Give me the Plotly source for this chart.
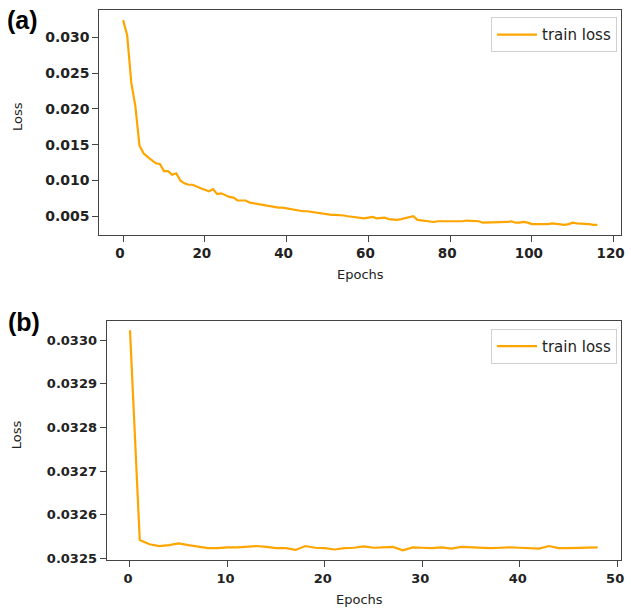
import plotly.graph_objects as go

W, H = 631, 614

epochs_a = list(range(117))
loss_a = [
    0.0324, 0.0303, 0.0237, 0.0204, 0.0149, 0.0138, 0.0133, 0.0128, 0.0124, 0.0123,
    0.0113, 0.0113, 0.0108, 0.0110, 0.0100, 0.0096, 0.0094, 0.0094, 0.0091, 0.0089,
    0.0087, 0.0085, 0.0088, 0.0081, 0.0082, 0.0079, 0.0077, 0.0076, 0.0072, 0.0072,
    0.0072, 0.0069, 0.0068, 0.0067, 0.0066, 0.0064, 0.0064, 0.0063, 0.0062, 0.0062,
    0.0061, 0.0060, 0.0058, 0.0057, 0.0057, 0.0057, 0.0056, 0.0056, 0.0055, 0.0054,
    0.0053, 0.0052, 0.0052, 0.0052, 0.0051, 0.0050, 0.0049, 0.0049, 0.0048, 0.0047,
    0.0048, 0.0049, 0.0047, 0.0047, 0.0048, 0.0046, 0.0045, 0.0045, 0.0046, 0.0047,
    0.0049, 0.0050, 0.0045, 0.0044, 0.0043, 0.0042, 0.0042, 0.0043, 0.0043, 0.0042,
    0.0042, 0.0042, 0.0042, 0.0043, 0.0044, 0.0044, 0.0044, 0.0043, 0.0041, 0.0041,
    0.0042, 0.0042, 0.0041, 0.0041, 0.0042, 0.0043, 0.0041, 0.0041, 0.0042, 0.0041,
    0.0039, 0.0039, 0.0039, 0.0038, 0.0039, 0.0040, 0.0039, 0.0039, 0.0038, 0.0039,
    0.0041, 0.0040, 0.0040, 0.0040, 0.0039, 0.0038, 0.0038,
]

epochs_b = list(range(49))
loss_b = [
    0.033023, 0.032542, 0.032532, 0.032528, 0.032530, 0.032534, 0.032530, 0.032526, 0.032523, 0.032523,
    0.032525, 0.032525, 0.032526, 0.032528, 0.032526, 0.032523, 0.032523, 0.032519, 0.032528, 0.032524,
    0.032523, 0.032520, 0.032523, 0.032524, 0.032527, 0.032524, 0.032525, 0.032526, 0.032518, 0.032525,
    0.032524, 0.032523, 0.032525, 0.032522, 0.032526, 0.032525, 0.032523, 0.032523, 0.032524, 0.032525,
    0.032524, 0.032523, 0.032522, 0.032528, 0.032523, 0.032523, 0.032524, 0.032524, 0.032525,
]

ticks_a_x = [0, 20, 40, 60, 80, 100, 120]
ticks_a_y = [0.005, 0.010, 0.015, 0.020, 0.025, 0.030]
ticks_b_x = [0, 10, 20, 30, 40, 50]
ticks_b_y = [0.0325, 0.0326, 0.0327, 0.0328, 0.0329, 0.0330]

ORANGE = "#FFA500"
TXT = "#222222"
AX = "#444444"

fig = go.Figure()
fig.add_trace(go.Scatter(x=epochs_a, y=loss_a, mode="lines", name="train loss",
                         line=dict(color=ORANGE, width=2.2), xaxis="x", yaxis="y", legend="legend"))
fig.add_trace(go.Scatter(x=epochs_b, y=loss_b, mode="lines", name="train loss",
                         line=dict(color=ORANGE, width=2.2), xaxis="x2", yaxis="y2", legend="legend2"))

def px_x(p):
    return p / W

def px_y(p):
    return 1 - p / H

def axis_common(size):
    return dict(showline=True, linecolor=AX, linewidth=1, mirror=True, ticks="outside",
                ticklen=6, tickcolor=AX, showgrid=False, zeroline=False,
                tickfont=dict(family="DejaVu Sans", size=size, color=TXT, weight="bold"))

leg_font = dict(family="DejaVu Sans", size=15, color=TXT)

fig.update_layout(
    width=W, height=H, margin=dict(l=0, r=0, t=0, b=0),
    paper_bgcolor="white", plot_bgcolor="white",
    xaxis=dict(domain=[px_x(100), px_x(625)], range=[-5.8, 121.8], anchor="y",
               tickvals=ticks_a_x, ticklabelshift=-3, **axis_common(13.5)),
    yaxis=dict(domain=[px_y(237), px_y(10)], range=[0.00237, 0.03383], anchor="x",
               tickvals=ticks_a_y, tickformat=".3f", **axis_common(14)),
    xaxis2=dict(domain=[px_x(107.3), px_x(625)], range=[-2.4, 50.4], anchor="y2",
                tickvals=ticks_b_x, ticklabelshift=-2, **axis_common(13)),
    yaxis2=dict(domain=[px_y(565), px_y(323.3)], range=[0.032495, 0.033045], anchor="x2",
                tickvals=ticks_b_y, tickformat=".4f", **axis_common(13)),
    legend=dict(x=px_x(621), y=px_y(17.5), xanchor="right", yanchor="top", itemwidth=40,
                bordercolor="#d0d0d0", borderwidth=1, bgcolor="white", font=leg_font),
    legend2=dict(x=px_x(621), y=px_y(331.5), xanchor="right", yanchor="top", itemwidth=40,
                 bordercolor="#d0d0d0", borderwidth=1, bgcolor="white", font=leg_font),
    showlegend=True,
)

ann_font = dict(family="DejaVu Sans", size=13, color=TXT)
annotations = [
    dict(text="Loss", x=px_x(17), y=px_y(117), textangle=-90, font=ann_font),
    dict(text="Epochs", x=px_x(363), y=px_y(277), font=ann_font),
    dict(text="Loss", x=px_x(17), y=px_y(438), textangle=-90, font=ann_font),
    dict(text="Epochs", x=px_x(362), y=px_y(604), font=ann_font),
    dict(text="<b>(a)</b>", x=px_x(23), y=px_y(20), font=dict(family="Liberation Sans", size=25, color="black")),
    dict(text="<b>(b)</b>", x=px_x(24), y=px_y(325), font=dict(family="Liberation Sans", size=25, color="black")),
]
for a in annotations:
    a.update(xref="paper", yref="paper", showarrow=False, xanchor="center", yanchor="middle")
fig.update_layout(annotations=annotations)

fig.write_html("out.html", config={"displayModeBar": False},
               post_script="document.body.style.margin='0';document.body.style.padding='0';")
